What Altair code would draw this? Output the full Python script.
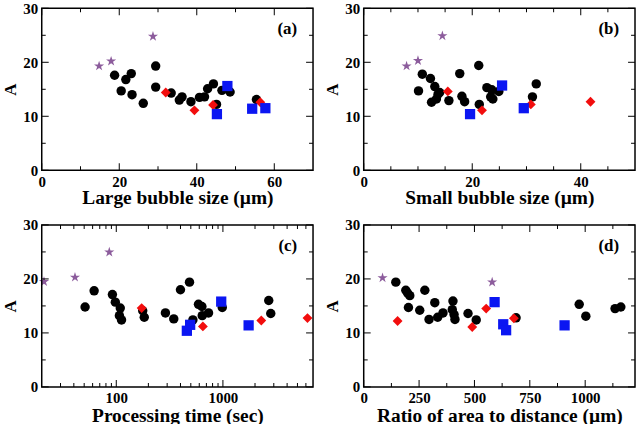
import altair as alt
import pandas as pd

# ---------------- data ----------------
series = ["circle", "diamond", "square", "star"]

# Panel (a): large bubble size (um)
a_circle_x = [18.8, 20.5, 21.7, 23.1, 23.3, 26.2, 29.4, 29.4, 33.4, 35.5, 36.2, 38.5, 40.7, 42.0, 42.8, 44.3, 45.1, 46.5, 48.6, 55.4]
a_circle_y = [17.6, 14.7, 16.8, 17.9, 14.0, 12.4, 15.4, 19.3, 14.3, 13.0, 13.6, 12.7, 13.5, 13.6, 15.1, 16.0, 12.2, 14.8, 14.5, 13.1]
a_diamond_x = [32.0, 39.4, 44.2, 56.4]
a_diamond_y = [14.4, 11.1, 12.1, 12.6]
a_square_x = [45.2, 47.9, 54.3, 57.7]
a_square_y = [10.4, 15.6, 11.4, 11.5]
a_star_x = [14.8, 17.9, 28.7]
a_star_y = [19.3, 20.2, 24.8]

# Panel (b): small bubble size (um)
b_circle_x = [10.1, 10.8, 12.3, 12.5, 13.1, 13.4, 13.7, 14.0, 15.7, 17.7, 18.1, 18.6, 21.2, 21.3, 22.7, 23.6, 23.4, 23.8, 24.9, 31.1, 31.8]
b_circle_y = [14.7, 17.8, 17.0, 12.6, 15.5, 13.2, 14.1, 14.4, 12.9, 17.9, 13.7, 12.7, 19.4, 12.2, 15.3, 14.9, 13.6, 13.2, 14.6, 13.6, 16.0]
b_diamond_x = [15.5, 21.8, 30.8, 41.8]
b_diamond_y = [14.6, 11.1, 12.2, 12.7]
b_square_x = [19.6, 25.5, 29.5]
b_square_y = [10.4, 15.7, 11.5]
b_star_x = [7.9, 10.0, 14.5]
b_star_y = [19.3, 20.3, 24.9]

# Panel (c): processing time (sec)
c_circle_x = [51, 62, 92, 98, 109, 107, 112, 177, 183, 289, 346, 400, 486, 523, 590, 635, 640, 733, 986, 2690, 2810]
c_circle_y = [14.8, 17.8, 17.1, 15.7, 14.6, 13.2, 12.4, 14.1, 12.9, 13.7, 12.6, 18.0, 19.4, 12.4, 15.3, 14.9, 13.2, 13.7, 14.7, 16.0, 13.6]
c_diamond_x = [173, 649, 2290, 6210]
c_diamond_y = [14.6, 11.2, 12.3, 12.75]
c_square_x = [459, 493, 964, 1742]
c_square_y = [10.4, 11.5, 15.8, 11.4]
c_star_x = [21, 41, 86]
c_star_y = [19.5, 20.3, 24.95]

# Panel (d): ratio of area to distance (um)
d_circle_x = [145, 190, 198, 208, 202, 253, 276, 295, 321, 334, 358, 403, 400, 408, 412, 471, 508, 688, 973, 1003, 1135, 1161]
d_circle_y = [19.4, 17.9, 17.4, 16.9, 14.7, 14.2, 17.9, 12.5, 15.6, 12.9, 13.7, 15.9, 14.3, 13.4, 12.5, 13.6, 12.4, 12.8, 15.3, 13.1, 14.5, 14.8]
d_diamond_x = [153, 490, 553, 678]
d_diamond_y = [12.2, 11.1, 14.5, 12.7]
d_square_x = [591, 630, 643, 907]
d_square_y = [15.7, 11.6, 10.5, 11.4]
d_star_x = [85, 580]
d_star_y = [20.2, 19.4]

# axis ranges and tick values
y_domain = [0, 30]
y_major = [0, 10, 20, 30]
y_minor = [5, 15, 25]
a_domain = [0, 70]
a_major = [0, 20, 40, 60]
a_minor = [10, 30, 50]
b_domain = [0, 50]
b_major = [0, 20, 40]
b_minor = [5, 10, 15, 25, 30, 35, 45]
c_domain = [20, 7000]
c_major = [100, 1000]
c_minor = [30, 40, 50, 60, 70, 80, 90, 200, 300, 400, 500, 600, 700, 800, 900, 2000, 3000, 4000, 5000, 6000]
d_domain = [0, 1225]
d_major = [0, 250, 500, 750, 1000]
d_minor = [125, 375, 625, 875, 1125]

STAR = "M0,-1L0.223,-0.307L0.951,-0.309L0.361,0.117L0.588,0.809L0,0.38L-0.588,0.809L-0.361,0.117L-0.951,-0.309L-0.223,-0.307Z"
shapes = ["circle", "diamond", "square", STAR]
colors = ["#000000", "#f20d0d", "#0b16f2", "#8c5c9c"]
sizes = [90, 115, 75, 95]

W, H = 273, 163
FONT = "Liberation Serif, Times New Roman, serif"
MAJ, MIN = 7, 4


def make_df(cx, cy, dx, dy, sx, sy, tx, ty):
    rows = []
    for xs, ys, s in [(cx, cy, "circle"), (dx, dy, "diamond"), (sx, sy, "square"), (tx, ty, "star")]:
        for x, y in zip(xs, ys):
            rows.append({"x": x, "y": y, "s": s})
    return pd.DataFrame(rows)


def panel(df, xtype, xdomain, xmajor, xminor, xtitle, tag, title_y):
    xscale = alt.Scale(type=xtype, domain=xdomain, nice=False) if xtype == "log" else \
        alt.Scale(domain=xdomain, nice=False, zero=False)
    yscale = alt.Scale(domain=y_domain, nice=False, zero=False)
    xaxis = alt.Axis(
        values=xmajor, title=xtitle, ticks=False, tickSize=0, domain=False, grid=False,
        labelPadding=4, labelFlush=False, labelOverlap=False, format="d",
        titleBaseline="alphabetic", titleY=title_y, titleFontSize=19.5)
    yaxis = alt.Axis(
        values=y_major, title="A", ticks=False, tickSize=0, domain=False, grid=False,
        labelPadding=4, labelFlush=False, labelOverlap=False, format="d",
        titleBaseline="alphabetic", titleX=-26, titleFontSize=17)

    def X(field="x"):
        return alt.X(f"{field}:Q", scale=xscale, axis=xaxis)

    def Y(field="y"):
        return alt.Y(f"{field}:Q", scale=yscale, axis=yaxis)

    pts = alt.Chart(df).mark_point(filled=True, opacity=1, strokeWidth=0).encode(
        x=X(), y=Y(),
        shape=alt.Shape("s:N", scale=alt.Scale(domain=series, range=shapes), legend=None),
        color=alt.Color("s:N", scale=alt.Scale(domain=series, range=colors), legend=None),
        size=alt.Size("s:N", scale=alt.Scale(domain=series, range=sizes), legend=None),
    )

    frame = alt.Chart(pd.DataFrame({"x": [xdomain[0]], "x2": [xdomain[1]],
                                    "y": [y_domain[0]], "y2": [y_domain[1]]})).mark_rect(
        fillOpacity=0, stroke="black", strokeWidth=1.5).encode(
        x=X(), x2="x2:Q", y=Y(), y2="y2:Q")

    def xticks(vals, yval, length, sign):
        d = pd.DataFrame({"x": vals, "y": [yval] * len(vals)})
        return alt.Chart(d).mark_tick(orient="vertical", size=length, thickness=1, opacity=1,
                                      color="black", yOffset=sign * length / 2).encode(x=X(), y=Y())

    def yticks(vals, xval, length, sign):
        d = pd.DataFrame({"x": [xval] * len(vals), "y": vals})
        return alt.Chart(d).mark_tick(orient="horizontal", size=length, thickness=1, opacity=1,
                                      color="black", xOffset=sign * length / 2).encode(x=X(), y=Y())

    label = alt.Chart(pd.DataFrame({"t": [tag]})).mark_text(
        font=FONT, fontSize=17, fontWeight="bold", align="right", baseline="middle", color="black"
    ).encode(x=alt.value(W - 16), y=alt.value(21), text="t:N")

    return alt.layer(
        pts,
        xticks(xmajor, y_domain[0], MAJ, -1), xticks(xminor, y_domain[0], MIN, -1),
        xticks(xmajor, y_domain[1], MAJ, 1), xticks(xminor, y_domain[1], MIN, 1),
        yticks(y_major, xdomain[0], MAJ, 1), yticks(y_minor, xdomain[0], MIN, 1),
        yticks(y_major, xdomain[1], MAJ, -1), yticks(y_minor, xdomain[1], MIN, -1),
        frame,
        label,
    ).properties(width=W, height=H)


pa = panel(make_df(a_circle_x, a_circle_y, a_diamond_x, a_diamond_y, a_square_x, a_square_y, a_star_x, a_star_y),
           "linear", a_domain, a_major, a_minor, "Large bubble size (µm)", "(a)", 33)
pb = panel(make_df(b_circle_x, b_circle_y, b_diamond_x, b_diamond_y, b_square_x, b_square_y, b_star_x, b_star_y),
           "linear", b_domain, b_major, b_minor, "Small bubble size (µm)", "(b)", 33)
pc = panel(make_df(c_circle_x, c_circle_y, c_diamond_x, c_diamond_y, c_square_x, c_square_y, c_star_x, c_star_y),
           "log", c_domain, c_major, c_minor, "Processing time (sec)", "(c)", 35)
pd_ = panel(make_df(d_circle_x, d_circle_y, d_diamond_x, d_diamond_y, d_square_x, d_square_y, d_star_x, d_star_y),
            "linear", d_domain, d_major, d_minor, "Ratio of area to distance (µm)", "(d)", 35)

chart = alt.vconcat(
    alt.hconcat(pa, pb, spacing=10),
    alt.hconcat(pc, pd_, spacing=10),
    spacing=11,
).properties(
    padding={"left": 2, "top": 0, "right": 0, "bottom": 0},
    background="white",
).configure_view(
    stroke=None
).configure_axis(
    labelFont=FONT, labelFontSize=15, labelFontWeight="bold", labelColor="black",
    titleFont=FONT, titleFontSize=18, titleFontWeight="bold", titleColor="black",
)

chart.save("out.html", embed_options={"renderer": "svg", "actions": False})
